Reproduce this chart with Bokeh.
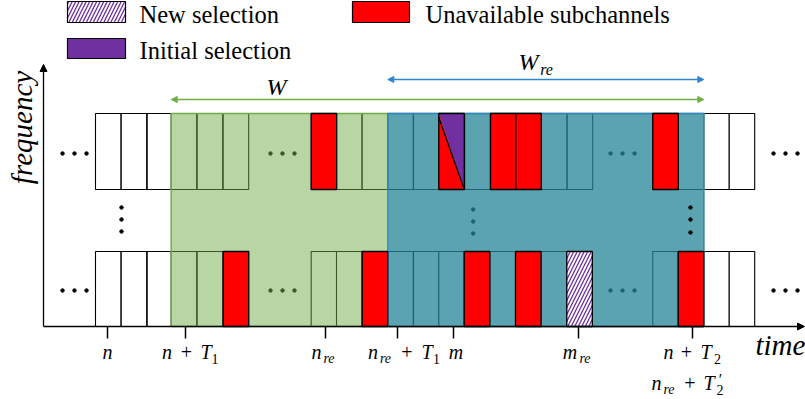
from bokeh.plotting import figure
from bokeh.models import Range1d, Arrow, NormalHead
from bokeh.core.properties import value
from bokeh.embed import file_html
from bokeh.resources import INLINE
import math

# ---------------- data ----------------
# start time of each subchannel slot (diagram time units) and its state
top_start = [95, 120.7, 146.7, 170.7, 196.7, 222.7, 310.7, 336, 361.7, 387.3, 413,
             438.3, 464.3, 490, 515.3, 541, 566.7, 652.3, 677.7, 703.3, 728.7]
top_kind = ["free", "free", "free", "free", "free", "free", "busy", "free", "free", "free", "free",
            "split", "free", "busy", "busy", "free", "free", "busy", "free", "free", "free"]
bottom_start = [95, 120.7, 146.7, 170.7, 196.7, 222.7, 310.7, 336, 361.7, 387.3, 413,
                438.3, 463.7, 489.7, 515, 540.7, 566.3, 652.3, 677.7, 703.3, 728.7]
bottom_kind = ["free", "free", "free", "free", "free", "busy", "free", "free", "busy", "free", "free",
               "free", "busy", "free", "busy", "free", "new", "free", "busy", "free", "free"]
slot_len = 25.5

# windows
W_span = [170.7, 703.3]
Wre_span = [387.3, 703.3]

# time ticks
tick_times = [107, 185, 325, 397, 453, 578, 692]
tick_names = ["n", "n+T1", "n_re", "n_re+T1", "m", "m_re", "n+T2 / n_re+T2'"]

legend_labels = ["New selection", "Initial selection", "Unavailable subchannels"]

# ---------------- layout / style ----------------
ROW_TOP = [113, 251]
ROW_BOT = [189, 326]
SERIF = value("Liberation Serif")
GREEN = "#70ad47"
BLUE = "#0070c0"
EDGE_BLUE = "#2f86cf"
RED = "#ff0000"
PURPLE = "#7030a0"

p = figure(width=805, height=399, x_range=Range1d(0, 805), y_range=Range1d(399, 0),
           output_backend="svg", toolbar_location=None, min_border=0)
p.axis.visible = False
p.grid.visible = False
p.outline_line_color = None
p.background_fill_color = "white"
p.border_fill_color = "white"

# axes
p.add_layout(Arrow(end=NormalHead(size=7, fill_color="black", line_color="black"),
                   x_start=43, y_start=326, x_end=43, y_end=64, line_color="black", line_width=1.3))
p.add_layout(Arrow(end=NormalHead(size=7, fill_color="black", line_color="black"),
                   x_start=43, y_start=326, x_end=804, y_end=326, line_color="black", line_width=1.3))

rows = [(top_start, top_kind), (bottom_start, bottom_kind)]

# all slots white first
for r, (st, kd) in enumerate(rows):
    xs = [s for s in st]
    p.quad(left=xs, right=[s + slot_len for s in xs], top=[ROW_TOP[r]] * len(xs),
           bottom=[ROW_BOT[r]] * len(xs), fill_color="white", line_color="black", line_width=1.1)

# dots (beneath overlays)
hx = [62, 74, 86, 270, 282, 294, 610, 622, 634]
p.scatter(x=hx * 2, y=[153] * 9 + [290] * 9, size=3.5, color="black")
p.scatter(x=[121, 121, 121, 472.7, 472.7, 472.7], y=[207, 219, 231, 209, 221, 233], size=3.5,
          color="black")

# window overlays
p.quad(left=[W_span[0]], right=[W_span[1]], top=[113], bottom=[326], fill_color=GREEN,
       fill_alpha=0.5, line_color=GREEN, line_width=1.5)
p.quad(left=[Wre_span[0]], right=[Wre_span[1]], top=[113], bottom=[326], fill_color=BLUE,
       fill_alpha=0.5, line_color=EDGE_BLUE, line_width=1.3)

# coloured slots
for r, (st, kd) in enumerate(rows):
    busy = [s for s, k in zip(st, kd) if k == "busy"]
    p.quad(left=busy, right=[s + slot_len for s in busy], top=[ROW_TOP[r]] * len(busy),
           bottom=[ROW_BOT[r]] * len(busy), fill_color=RED, line_color="black", line_width=1.3)
    new = [s for s, k in zip(st, kd) if k == "new"]
    p.quad(left=new, right=[s + slot_len for s in new], top=[ROW_TOP[r]] * len(new),
           bottom=[ROW_BOT[r]] * len(new), fill_color="white", hatch_pattern="/",
           hatch_color=PURPLE, hatch_scale=7, hatch_weight=1.3, line_color="black", line_width=1.3)
    for s in [s for s, k in zip(st, kd) if k == "split"]:
        e = s + slot_len
        p.patch(x=[s, e, e], y=[ROW_TOP[r], ROW_TOP[r], ROW_BOT[r]], fill_color=PURPLE, line_color=None)
        p.patch(x=[s, s, e], y=[ROW_TOP[r], ROW_BOT[r], ROW_BOT[r]], fill_color=RED, line_color=None)
        p.segment(x0=[s], y0=[ROW_TOP[r] + 4], x1=[e], y1=[ROW_BOT[r]], line_color="black", line_width=1.2)
        p.quad(left=[s], right=[e], top=[ROW_TOP[r]], bottom=[ROW_BOT[r]], fill_color=None,
               line_color="black", line_width=1.3)

# right-side dots on top
p.scatter(x=[773, 785, 797] * 2, y=[153] * 3 + [290] * 3, size=3.5, color="black")
p.scatter(x=[690, 690, 690], y=[207, 219, 232], size=3.5, color="black")

# window arrows
p.add_layout(Arrow(start=NormalHead(size=6, fill_color=GREEN, line_color=GREEN),
                   end=NormalHead(size=6, fill_color=GREEN, line_color=GREEN),
                   x_start=W_span[0], y_start=99, x_end=W_span[1], y_end=99,
                   line_color=GREEN, line_width=1.4))
p.add_layout(Arrow(start=NormalHead(size=6, fill_color=EDGE_BLUE, line_color=EDGE_BLUE),
                   end=NormalHead(size=6, fill_color=EDGE_BLUE, line_color=EDGE_BLUE),
                   x_start=Wre_span[0], y_start=79, x_end=Wre_span[1], y_end=79,
                   line_color=EDGE_BLUE, line_width=1.4))


def txt(x, y, t, size, style="italic", align="center", angle=0.0, color="black", shift=True):
    px = float(size.replace("px", ""))
    yy = y - 0.28 * px if shift else y
    p.text(x=[x], y=[yy], text=[t], text_font=SERIF, text_font_size=size, text_font_style=style,
           text_align=align, text_baseline="alphabetic", angle=angle, text_color=color)


txt(276, 93, "W", "24px")
txt(528, 68, "W", "24px")
txt(546, 73, "re", "16px")

# tick marks
p.segment(x0=tick_times, y0=[326] * len(tick_times), x1=tick_times, y1=[338] * len(tick_times),
          line_color="black", line_width=1.5)

M, S = "20px", "14px"
b1, s1 = 357, 362
b2, s2 = 388, 393
# n
txt(107, b1, "n", M)
# n + T1
txt(166.5, b1, "n", M)
txt(186, b1, "+", M, style="normal")
txt(205.5, b1, "T", M)
txt(214.5, s1, "1", S, style="normal")
# n_re
txt(316, b1, "n", M)
txt(328.5, s1, "re", S)
# n_re + T1
txt(372.5, b1, "n", M)
txt(385, s1, "re", S)
txt(406.5, b1, "+", M, style="normal")
txt(426.5, b1, "T", M)
txt(436, s1, "1", S, style="normal")
# m
txt(455.5, b1, "m", M)
# m_re
txt(569.5, b1, "m", M)
txt(584.5, s1, "re", S)
# n + T2
txt(668, b1, "n", M)
txt(686, b1, "+", M, style="normal")
txt(705.5, b1, "T", M)
txt(717, s1, "2", S, style="normal")
# n_re + T2'
txt(656, b2, "n", M)
txt(668.5, s2, "re", S)
txt(689.5, b2, "+", M, style="normal")
txt(708.5, b2, "T", M)
txt(720, 383, "\u2032", "16px", style="normal")
txt(719.5, s2, "2", S, style="normal")

# axis titles
txt(755, 353, "time", "29px", align="left")
txt(21, 127, "frequency", "29px", angle=math.pi / 2, shift=False)

# legend
p.quad(left=[67], right=[125], top=[1], bottom=[22], fill_color="white", hatch_pattern="/",
       hatch_color=PURPLE, hatch_scale=7, hatch_weight=1.3, line_color="black", line_width=1.2)
p.quad(left=[67], right=[125], top=[38], bottom=[58], fill_color=PURPLE, line_color="black", line_width=1.2)
p.quad(left=[352], right=[409], top=[1], bottom=[22], fill_color=RED, line_color="black", line_width=1.2)
txt(139, 20.5, legend_labels[0], "24.5px", style="normal", align="left")
txt(139, 57, legend_labels[1], "24.5px", style="normal", align="left")
txt(425, 20.5, legend_labels[2], "24.5px", style="normal", align="left")

open("out.html", "w").write(file_html(p, INLINE))
